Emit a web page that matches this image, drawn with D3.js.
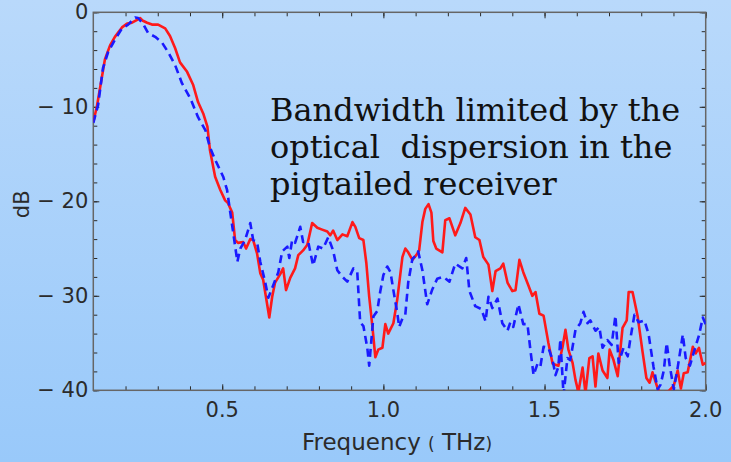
<!DOCTYPE html>
<html><head><meta charset="utf-8">
<script src="https://cdn.jsdelivr.net/npm/d3@7"></script>
<style>
html,body{margin:0;padding:0;background:#a8d0fa;}
svg{display:block;}
</style></head>
<body>
<svg id="chart" width="731" height="462"></svg>
<script>
// ---- data ----
const redFreq = [0.10,0.111,0.136,0.152,0.167,0.189,0.205,0.220,0.236,0.245,0.254,0.267,0.282,0.301,0.323,0.338,0.354,0.369,0.391,0.410,0.425,0.441,0.454,0.462,0.478,0.494,0.509,0.518,0.531,0.540,0.549,0.565,0.574,0.587,0.596,0.608,0.618,0.627,0.646,0.655,0.664,0.680,0.689,0.698,0.711,0.726,0.736,0.751,0.764,0.779,0.795,0.810,0.826,0.835,0.844,0.857,0.873,0.888,0.904,0.913,0.925,0.938,0.947,0.956,0.966,0.975,0.984,0.997,1.006,1.015,1.031,1.043,1.059,1.068,1.077,1.090,1.102,1.111,1.121,1.130,1.140,1.149,1.155,1.164,1.183,1.192,1.205,1.223,1.239,1.254,1.270,1.285,1.298,1.310,1.326,1.338,1.348,1.363,1.372,1.385,1.400,1.410,1.422,1.434,1.450,1.462,1.472,1.484,1.497,1.512,1.525,1.534,1.543,1.556,1.565,1.574,1.587,1.596,1.605,1.618,1.627,1.639,1.649,1.658,1.667,1.680,1.695,1.702,1.714,1.727,1.742,1.755,1.761,1.773,1.789,1.804,1.816,1.826,1.835,1.851,1.860,1.885,1.901,1.913,1.923,1.932,1.944,1.960,1.969,1.979,1.991,2.000];
const redDb = [-11.6,-10.0,-5.0,-3.5,-2.6,-1.6,-1.2,-1.1,-0.8,-0.6,-0.9,-1.1,-1.3,-1.3,-1.7,-2.5,-3.8,-5.3,-6.3,-7.7,-9.5,-10.7,-12.1,-14.6,-17.4,-18.8,-19.9,-20.2,-21.2,-24.1,-24.4,-24.3,-25.0,-24.0,-24.1,-25.5,-27.6,-28.3,-32.3,-30.1,-28.6,-27.7,-27.1,-29.4,-28.1,-27.1,-25.7,-25.2,-24.6,-22.3,-22.8,-23.0,-23.2,-23.6,-23.1,-24.1,-23.5,-23.7,-22.2,-22.7,-23.9,-24.1,-26.5,-30.1,-33.3,-36.5,-35.7,-35.5,-33.0,-34.0,-32.9,-30.4,-25.9,-25.0,-25.4,-26.2,-25.7,-25.2,-22.2,-20.8,-20.3,-21.2,-24.2,-25.0,-25.4,-22.0,-21.8,-23.6,-22.3,-20.7,-21.4,-23.8,-24.1,-25.9,-26.7,-29.5,-27.4,-27.1,-26.6,-28.6,-29.5,-29.4,-26.2,-27.5,-28.9,-30.0,-29.6,-31.9,-32.1,-35.0,-37.2,-37.3,-37.4,-35.4,-33.6,-35.7,-37.1,-38.9,-40.2,-37.6,-40.3,-36.6,-36.4,-39.6,-36.1,-37.9,-38.7,-35.7,-36.8,-38.5,-33.4,-32.6,-29.6,-29.6,-32.2,-35.9,-38.7,-39.2,-38.1,-39.8,-40.3,-40.1,-39.5,-37.9,-39.8,-38.2,-38.1,-35.4,-36.1,-35.5,-37.3,-37.1];

const blueFreq = [0.10,0.115,0.130,0.146,0.167,0.189,0.208,0.230,0.239,0.254,0.270,0.292,0.313,0.332,0.354,0.375,0.401,0.425,0.448,0.462,0.478,0.503,0.515,0.525,0.534,0.547,0.556,0.571,0.587,0.596,0.608,0.618,0.633,0.643,0.658,0.674,0.686,0.702,0.708,0.717,0.726,0.742,0.751,0.767,0.782,0.798,0.813,0.829,0.844,0.857,0.873,0.888,0.907,0.919,0.928,0.938,0.950,0.956,0.969,0.981,0.990,1.000,1.012,1.022,1.031,1.043,1.049,1.059,1.068,1.077,1.090,1.099,1.108,1.121,1.136,1.152,1.167,1.186,1.205,1.223,1.245,1.257,1.267,1.285,1.304,1.317,1.326,1.338,1.354,1.369,1.385,1.394,1.403,1.419,1.434,1.447,1.456,1.466,1.478,1.487,1.497,1.512,1.525,1.534,1.543,1.549,1.559,1.571,1.580,1.596,1.611,1.621,1.633,1.642,1.658,1.670,1.680,1.695,1.708,1.720,1.730,1.745,1.758,1.767,1.779,1.792,1.810,1.823,1.838,1.851,1.860,1.870,1.879,1.888,1.901,1.913,1.929,1.938,1.951,1.963,1.979,1.991,2.000];
const blueDb = [-11.7,-9.8,-5.9,-4.2,-2.9,-1.7,-1.3,-0.55,-0.6,-1.2,-2.2,-2.6,-3.2,-4.2,-5.6,-7.5,-9.1,-11.1,-12.5,-14.3,-15.6,-17.4,-18.8,-21.2,-23.3,-26.4,-25.0,-24.1,-22.3,-24.1,-24.3,-26.4,-28.5,-30.2,-28.9,-27.5,-25.3,-24.8,-26.0,-24.1,-24.4,-22.7,-24.3,-24.3,-26.8,-24.8,-25.0,-23.8,-25.2,-27.3,-28.0,-28.5,-27.1,-27.5,-32.8,-33.2,-35.5,-37.4,-32.2,-31.6,-29.6,-27.8,-26.9,-27.5,-29.4,-31.8,-33.3,-32.4,-32.0,-28.6,-26.1,-25.8,-25.3,-27.3,-30.9,-29.3,-28.2,-28.0,-28.5,-26.6,-27.1,-26.0,-29.5,-31.1,-31.4,-32.7,-30.1,-31.3,-30.3,-32.9,-33.7,-32.8,-33.3,-30.9,-33.0,-33.0,-35.7,-38.4,-37.2,-37.5,-35.4,-35.5,-36.8,-38.4,-37.5,-34.6,-40.5,-36.6,-36.8,-33.6,-32.9,-31.7,-32.9,-32.6,-33.7,-33.3,-35.5,-34.7,-35.2,-32.1,-37.1,-35.5,-36.4,-34.4,-32.0,-32.8,-32.6,-34.1,-37.5,-39.9,-39.4,-37.9,-35.0,-37.3,-39.9,-37.6,-34.1,-36.6,-37.4,-36.0,-34.2,-32.3,-33.0];

const xTicks = [0.5, 1.0, 1.5, 2.0];
const xTickLabels = ["0.5", "1.0", "1.5", "2.0"];
const yTicks = [0, -10, -20, -30, -40];
const yTickLabels = ["0", "\u2212 10", "\u2212 20", "\u2212 30", "\u2212 40"];
const annotation = ["Bandwidth limited by the", "optical  dispersion in the", "pigtailed receiver"];

// ---- drawing ----
const W = 731, H = 462;
const m = {left: 93.3, right: 25.3, top: 12.3, bottom: 71.7};
const svg = d3.select("#chart");

const defs = svg.append("defs");
const grad = defs.append("linearGradient").attr("id","bg").attr("x1",0).attr("y1",0).attr("x2",0).attr("y2",1);
grad.append("stop").attr("offset","0%").attr("stop-color","#b9d9fb");
grad.append("stop").attr("offset","100%").attr("stop-color","#99c9fa");
svg.append("rect").attr("width",W).attr("height",H).attr("fill","url(#bg)");

const x = d3.scaleLinear().domain([0.1, 2.0]).range([m.left, W - m.right]);
const y = d3.scaleLinear().domain([-40, 0]).range([H - m.bottom, m.top]);

defs.append("clipPath").attr("id","clip").append("rect")
  .attr("x", x(0.1)).attr("y", y(0)).attr("width", x(2.0)-x(0.1)).attr("height", y(-40)-y(0));

const ink = "#2b2b2b", frame = "#666";
const minorX = d3.range(2, 21).map(v => v/10);
const minorY = d3.range(-40, 1, 2);

function tickAxis(gen, pos, values, len, fmt) {
  const g = svg.append("g").attr("transform", pos).call(gen.tickValues(values).tickSize(len).tickFormat(fmt || ""));
  g.select(".domain").remove();
  g.selectAll(".tick line").attr("stroke", ink).attr("stroke-width", 1);
  return g;
}
// minor + major ticks, inward on all four sides
tickAxis(d3.axisTop(x), `translate(0,${y(-40)})`, minorX, 4);
tickAxis(d3.axisTop(x), `translate(0,${y(-40)})`, xTicks, 6);
tickAxis(d3.axisBottom(x), `translate(0,${y(0)})`, minorX, 4);
tickAxis(d3.axisBottom(x), `translate(0,${y(0)})`, xTicks, 6);
tickAxis(d3.axisRight(y), `translate(${x(0.1)},0)`, minorY, 4);
tickAxis(d3.axisRight(y), `translate(${x(0.1)},0)`, yTicks, 6);
tickAxis(d3.axisLeft(y), `translate(${x(2.0)},0)`, minorY, 4);
tickAxis(d3.axisLeft(y), `translate(${x(2.0)},0)`, yTicks, 6);

// tick labels
const tickFont = "'DejaVu Sans', sans-serif";
svg.append("g").selectAll("text").data(xTicks).join("text")
  .attr("x", d => x(d)).attr("y", y(-40) + 27)
  .attr("text-anchor","middle").attr("font-family",tickFont).attr("font-size",21).attr("fill",ink)
  .text((d,i) => xTickLabels[i]);
svg.append("g").selectAll("text").data(yTicks).join("text")
  .attr("x", x(0.1) - 5).attr("y", d => y(d) + 7)
  .attr("text-anchor","end").attr("font-family",tickFont).attr("font-size",21).attr("fill",ink)
  .text((d,i) => yTickLabels[i]);

// frame
svg.append("rect").attr("x", x(0.1)).attr("y", y(0)).attr("width", x(2.0)-x(0.1)).attr("height", y(-40)-y(0))
  .attr("fill","none").attr("stroke",frame).attr("stroke-width",1.5);

// series
const line = d3.line().x(d => x(d[0])).y(d => y(d[1]));
const plot = svg.append("g").attr("clip-path","url(#clip)");
plot.append("path").datum(d3.zip(redFreq, redDb)).attr("d", line)
  .attr("fill","none").attr("stroke","#ff1a1a").attr("stroke-width",2.6).attr("stroke-linejoin","round");
plot.append("path").datum(d3.zip(blueFreq, blueDb)).attr("d", line)
  .attr("fill","none").attr("stroke","#1a1aff").attr("stroke-width",2.6).attr("stroke-dasharray","8,5").attr("stroke-linejoin","round");

// axis titles
const xt = svg.append("text").attr("x", 397).attr("y", 450).attr("text-anchor","middle")
  .attr("font-family",tickFont).attr("font-size",23).attr("fill",ink);
xt.append("tspan").text("Frequency ");
xt.append("tspan").attr("font-size",17).text("(");
xt.append("tspan").text(" THz");
xt.append("tspan").attr("font-size",17).text(")");
svg.append("text").attr("transform",`translate(29,${(y(0)+y(-40))/2 + 3}) rotate(-90)`)
  .attr("text-anchor","middle").attr("font-family",tickFont).attr("font-size",21).attr("fill",ink).text("dB");

// annotation
svg.append("g").selectAll("text").data(annotation).join("text")
  .attr("x", 270).attr("y", (d,i) => 121 + i*37)
  .attr("font-family","'DejaVu Serif', serif").attr("font-size",32).attr("fill","#111")
  .attr("xml:space","preserve").style("white-space","pre")
  .text(d => d);
</script>
</body></html>
